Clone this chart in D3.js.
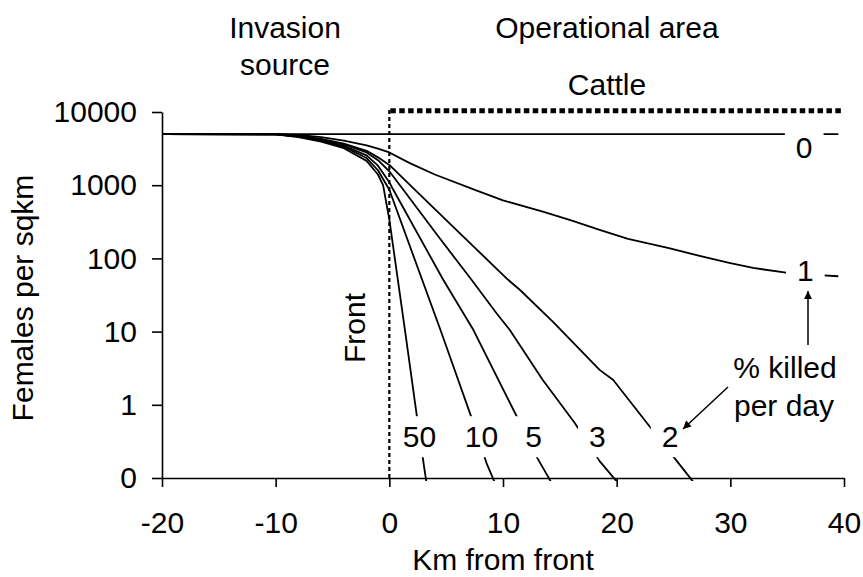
<!DOCTYPE html>
<html>
<head>
<meta charset="utf-8">
<script src="https://cdn.jsdelivr.net/npm/d3@7"></script>
<style>
  html, body { margin: 0; padding: 0; background: #fff; }
  svg text { font-family: "Liberation Sans", Arial, sans-serif; fill: #000; }
</style>
</head>
<body>
<svg id="chart" width="863" height="577"></svg>
<script>
// Female fly density across the invasion front, for different daily kill rates.
const xTicks = [-20, -10, 0, 10, 20, 30, 40];
const yTicks = [0.1, 1, 10, 100, 1000, 10000];
const yTickLabels = ["0", "1", "10", "100", "1000", "10000"];

// % killed per day for each series
const killRates = [0, 1, 2, 3, 5, 10, 50];

// km from front / females per sqkm, one pair of arrays per kill rate
const km0 = [-20, 39.5];
const dens0 = [5000, 5000];

const km1 = [-20, -10, -8, -6, -4, -2, -1, 0, 1.8, 4, 7.7, 10, 13.5, 16, 18.5, 21, 24.6, 27.3, 29.9, 32, 34.9, 37, 39.5];
const dens1 = [5000, 4980, 4850, 4550, 4050, 3500, 3150, 2800, 2000, 1400, 845, 620, 437, 330, 245, 185, 138, 108, 87, 74, 64, 60, 57];

const km2 = [-20, -10, -8, -6, -4, -2, -1, 0, 2.26, 5.3, 10.45, 11.5, 14.4, 18.5, 19.7, 22.8, 25.3, 26.7, 28];
const dens2 = [5000, 4970, 4750, 4300, 3700, 2950, 2400, 1890, 865, 300, 51, 37, 13.6, 3.0, 2.18, 0.53, 0.17, 0.09, 0.05];

const km3 = [-20, -10, -8, -6, -4, -2, -1, 0, 1.23, 4.2, 7.23, 9.43, 10.6, 13.5, 16.3, 18.5, 20, 21];
const dens3 = [5000, 4960, 4700, 4200, 3600, 2800, 2200, 1550, 865, 210, 51, 17.8, 10.5, 2.18, 0.57, 0.17, 0.09, 0.06];

const km5 = [-20, -10, -8, -6, -4, -2, -1, 0, 0.35, 4.74, 7.4, 11.3, 13, 14.2, 15];
const dens5 = [5000, 4950, 4650, 4100, 3450, 2550, 1850, 1100, 865, 51, 10.5, 0.65, 0.19, 0.09, 0.05];

const km10 = [-20, -10, -8, -6, -4, -2, -1, 0, 4.5, 7.2, 8.55, 9.3, 10];
const dens10 = [5000, 4950, 4600, 4050, 3350, 2350, 1600, 865, 10.5, 0.69, 0.16, 0.085, 0.05];

const km50 = [-20, -10, -8, -6, -4, -2, -1, -0.55, 0, 1.47, 2.41, 3.07, 3.6];
const dens50 = [5000, 4940, 4550, 3950, 3200, 2150, 1400, 1000, 340, 8.2, 0.72, 0.137, 0.04];

const seriesKm = [km0, km1, km2, km3, km5, km10, km50];
const seriesDens = [dens0, dens1, dens2, dens3, dens5, dens10, dens50];

// where each kill-rate label sits: [km, density]
const labelKm = [36.5, 36.6, 24.7, 18.3, 12.7, 8.1, 2.65];
const labelDens = [3300, 68, 0.37, 0.37, 0.37, 0.37, 0.37];

const svg = d3.select("#chart");
const FONT = 30;

const x = d3.scaleLinear().domain([-20, 40]).range([162, 844]);
const y = d3.scaleLog().domain([0.1, 10000]).range([478, 112]);

const defs = svg.append("defs");
defs.append("clipPath").attr("id", "plotClip")
  .append("rect").attr("x", 162).attr("y", 100).attr("width", 684).attr("height", 381);

defs.append("marker")
  .attr("id", "arrow").attr("viewBox", "0 0 10 10")
  .attr("refX", 10).attr("refY", 5)
  .attr("markerWidth", 9).attr("markerHeight", 8)
  .attr("markerUnits", "userSpaceOnUse")
  .attr("orient", "auto")
  .append("path").attr("d", "M0,0 L10,5 L0,10 Z").attr("fill", "#000");

// curves
const line = d3.line()
  .x(d => x(d[0]))
  .y(d => y(d[1]));

const curves = svg.append("g").attr("clip-path", "url(#plotClip)");
seriesKm.forEach((kms, i) => {
  const pts = kms.map((k, j) => [k, seriesDens[i][j]]);
  curves.append("path")
    .datum(pts)
    .attr("d", line)
    .attr("fill", "none")
    .attr("stroke", "#000")
    .attr("stroke-width", 1.8)
    .attr("stroke-linejoin", "round");
});

// front line and cattle zone
svg.append("line")
  .attr("x1", x(0)).attr("x2", x(0))
  .attr("y1", y(0.1)).attr("y2", 109)
  .attr("stroke", "#000").attr("stroke-width", 2.2)
  .attr("stroke-dasharray", "4,3");

svg.append("line")
  .attr("x1", x(0) + 1).attr("x2", 841)
  .attr("y1", 110.7).attr("y2", 110.7)
  .attr("stroke", "#000").attr("stroke-width", 5)
  .attr("stroke-dasharray", "5.5,3.4");

// axes
const yAxis = d3.axisLeft(y)
  .tickValues(yTicks)
  .tickFormat((d, i) => yTickLabels[i])
  .tickSize(10).tickSizeOuter(0).tickPadding(15);

const xAxis = d3.axisBottom(x)
  .tickValues(xTicks)
  .tickFormat(d => String(d))
  .tickSize(9).tickSizeOuter(0).tickPadding(25);

const gy = svg.append("g").attr("transform", `translate(${x(-20)},0)`).call(yAxis);
const gx = svg.append("g").attr("transform", `translate(0,${y(0.1)})`).call(xAxis);

[gx, gy].forEach(g => {
  g.select(".domain").attr("stroke", "#000").attr("stroke-width", 1.6);
  g.selectAll(".tick line").attr("stroke", "#000").attr("stroke-width", 1.6);
  g.selectAll(".tick text")
    .attr("font-size", FONT)
    .attr("font-family", "Liberation Sans, Arial, sans-serif")
    .attr("fill", "#000");
});

// axis titles
svg.append("text")
  .attr("x", 503).attr("y", 570)
  .attr("text-anchor", "middle").attr("font-size", FONT)
  .text("Km from front");

svg.append("text")
  .attr("transform", "translate(33,298) rotate(-90)")
  .attr("text-anchor", "middle").attr("font-size", FONT)
  .text("Females per sqkm");

svg.append("text")
  .attr("transform", `translate(365,328) rotate(-90)`)
  .attr("text-anchor", "middle").attr("font-size", FONT)
  .text("Front");

// zone headings
const headings = [
  ["Invasion", 285, 38],
  ["source", 285, 75],
  ["Operational area", 607, 38],
  ["Cattle", 607, 95]
];
headings.forEach(h => {
  svg.append("text")
    .attr("x", h[1]).attr("y", h[2])
    .attr("text-anchor", "middle").attr("font-size", FONT)
    .text(h[0]);
});

// kill-rate labels on white boxes that break the curves
killRates.forEach((r, i) => {
  const g = svg.append("g");
  const t = g.append("text")
    .attr("x", x(labelKm[i]))
    .attr("y", y(labelDens[i]))
    .attr("dy", "0.36em")
    .attr("text-anchor", "middle")
    .attr("font-size", FONT)
    .text(r);
  const b = t.node().getBBox();
  g.insert("rect", "text")
    .attr("x", b.x - 11).attr("y", b.y - 4)
    .attr("width", b.width + 22).attr("height", b.height + 8)
    .attr("fill", "#fff");
});

// annotation
svg.append("text")
  .attr("x", 785).attr("y", 378)
  .attr("text-anchor", "middle").attr("font-size", FONT)
  .text("% killed");
svg.append("text")
  .attr("x", 784).attr("y", 416)
  .attr("text-anchor", "middle").attr("font-size", FONT)
  .text("per day");

svg.append("line")
  .attr("x1", 808).attr("y1", 345).attr("x2", 808).attr("y2", 291)
  .attr("stroke", "#000").attr("stroke-width", 1.5)
  .attr("marker-end", "url(#arrow)");
svg.append("line")
  .attr("x1", 728).attr("y1", 387).attr("x2", 683).attr("y2", 429)
  .attr("stroke", "#000").attr("stroke-width", 1.5)
  .attr("marker-end", "url(#arrow)");
</script>
</body>
</html>
